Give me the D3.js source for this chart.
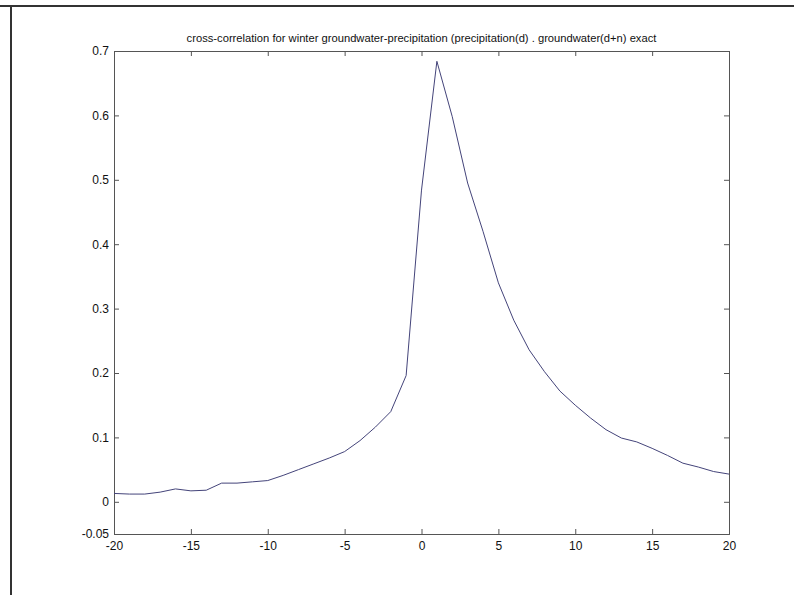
<!DOCTYPE html>
<html>
<head>
<meta charset="utf-8">
<script src="https://cdn.jsdelivr.net/npm/d3@7"></script>
<style>
  body { margin: 0; background: #fff; }
  svg { display: block; }
  text { font-family: Arial, "Liberation Sans", sans-serif; fill: #111; }
</style>
</head>
<body>
<script>
// lag n, from -20 to 20
var lags = d3.range(-20, 21);
// correlation values
var corr = [
  0.013, 0.012, 0.012, 0.015, 0.020, 0.017, 0.018, 0.029, 0.029, 0.031,
  0.033, 0.041, 0.050, 0.059, 0.068, 0.078, 0.095, 0.116, 0.140, 0.196,
  0.484, 0.684, 0.598, 0.495, 0.420, 0.340, 0.282, 0.236, 0.202, 0.172,
  0.150, 0.130, 0.112, 0.099, 0.093, 0.083, 0.072, 0.060, 0.054, 0.047,
  0.043
];
var xTicks = [-20, -15, -10, -5, 0, 5, 10, 15, 20];
var yTicks = [-0.05, 0, 0.1, 0.2, 0.3, 0.4, 0.5, 0.6, 0.7];
var title = "cross-correlation for winter groundwater-precipitation (precipitation(d) . groundwater(d+n) exact";

var W = 794, H = 595;
var margin = {top: 51, right: 65, bottom: 61, left: 114};

var svg = d3.select("body").append("svg")
    .attr("width", W)
    .attr("height", H);

// figure frame (only top and left edges show)
svg.append("line").attr("x1", 0).attr("x2", W).attr("y1", 6).attr("y2", 6)
    .style("stroke", "#333").style("stroke-width", 2);
svg.append("line").attr("x1", 11).attr("x2", 11).attr("y1", 5).attr("y2", H)
    .style("stroke", "#333").style("stroke-width", 2);

var x = d3.scaleLinear().domain([-20, 20]).range([margin.left, W - margin.right]);
var y = d3.scaleLinear().domain([-0.05, 0.7]).range([H - margin.bottom, margin.top]);

var fmt = function(d) { return d === 0 ? "0" : String(+d.toFixed(2)); };

// axes: ticks point inward, box on all sides
var axBottom = svg.append("g")
    .attr("transform", "translate(0," + y(-0.05) + ")")
    .call(d3.axisBottom(x).tickValues(xTicks).tickSize(-5).tickPadding(7).tickFormat(fmt));
var axTop = svg.append("g")
    .attr("transform", "translate(0," + y(0.7) + ")")
    .call(d3.axisTop(x).tickValues(xTicks).tickSize(-5).tickFormat(""));
var axLeft = svg.append("g")
    .attr("transform", "translate(" + x(-20) + ",0)")
    .call(d3.axisLeft(y).tickValues(yTicks).tickSize(-5).tickPadding(5).tickFormat(fmt));
var axRight = svg.append("g")
    .attr("transform", "translate(" + x(20) + ",0)")
    .call(d3.axisRight(y).tickValues(yTicks).tickSize(-5).tickFormat(""));

[axBottom, axTop, axLeft, axRight].forEach(function(g) {
    g.select(".domain").attr("stroke", "#555");
    g.selectAll(".tick line").attr("stroke", "#555");
    g.selectAll(".tick text").style("font-size", "12px").attr("fill", "#111");
});

var line = d3.line()
    .x(function(d) { return x(d[0]); })
    .y(function(d) { return y(d[1]); });

svg.append("path")
    .datum(d3.zip(lags, corr))
    .attr("d", line)
    .style("fill", "none")
    .style("stroke", "#44447a")
    .style("stroke-width", 1);

svg.append("text")
    .attr("x", (margin.left + W - margin.right) / 2)
    .attr("y", 42)
    .attr("text-anchor", "middle")
    .style("font-size", "11.2px")
    .text(title);
</script>
</body>
</html>
